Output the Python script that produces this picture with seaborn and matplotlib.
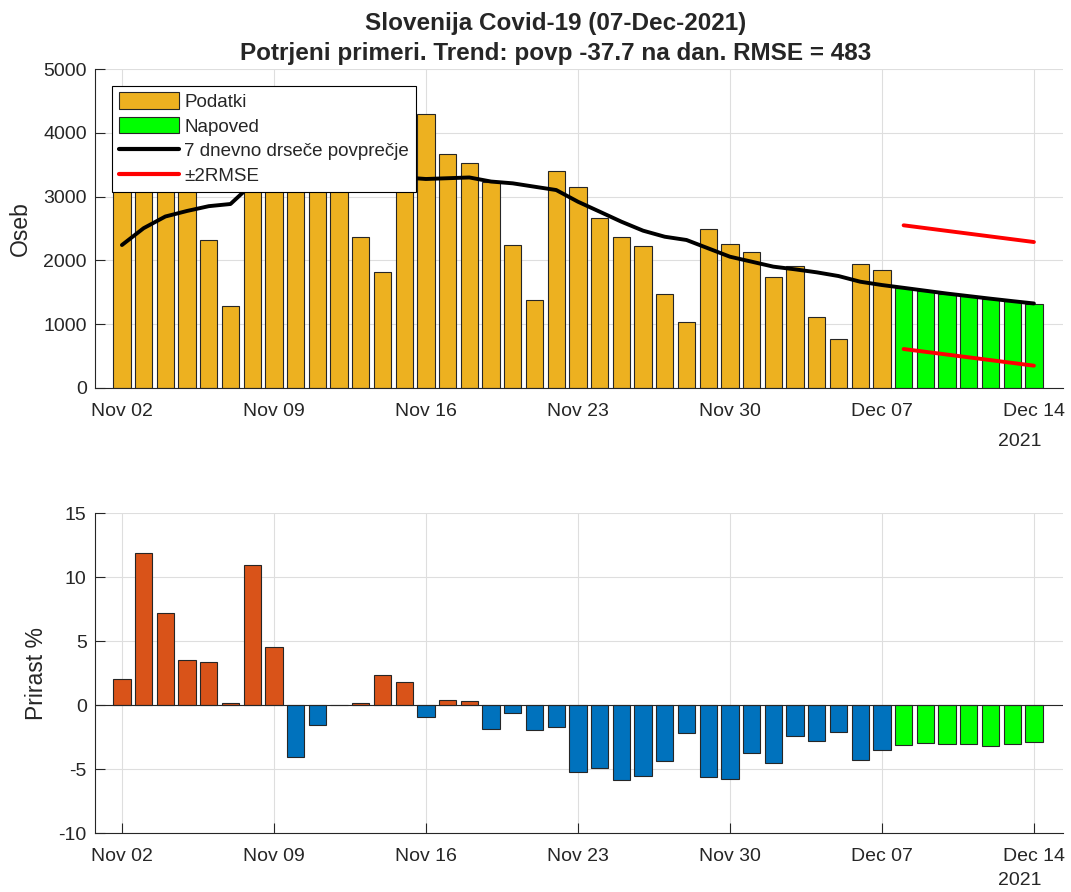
import matplotlib
matplotlib.use("Agg")
import matplotlib.pyplot as plt
import seaborn as sns
import pandas as pd
from matplotlib.patches import Patch
from matplotlib.lines import Line2D

# days shown on the x axis (Nov 02 .. Dec 14, 2021)
days = pd.date_range("2021-11-02", "2021-12-14").strftime("%b %d").tolist()

# confirmed cases Nov 02 .. Dec 07
cases = [3460, 4510, 3790, 3650, 2320, 1285, 3320, 4470, 3570, 3450,
         3650, 2361, 1823, 3725, 4290, 3663, 3522, 3234, 2241, 1379,
         3396, 3145, 2659, 2361, 2220, 1468, 1029, 2487, 2257, 2126,
         1740, 1907, 1113, 768, 1944, 1850]
# forecast Dec 08 .. Dec 14
forecast = [1573, 1520, 1478, 1447, 1400, 1359, 1317]

# 7 day moving average (incl. forecast)
avg7 = [2241, 2505, 2688, 2775, 2850, 2884, 3200, 3345, 3212, 3165,
        3165, 3171, 3244, 3300, 3276, 3288, 3300, 3236, 3208, 3155,
        3103, 2920, 2764, 2607, 2466, 2371, 2320, 2189, 2058, 1980,
        1902, 1860, 1813, 1755, 1666, 1614, 1570, 1525, 1480, 1440,
        1400, 1362, 1325]

# +-2RMSE band ends (Dec 08, Dec 14)
band_days = ["Dec 08", "Dec 14"]
band_upper = [2550, 2288]
band_lower = [611, 350]

# daily growth of the average in %
growth = [2.0, 11.9, 7.2, 3.5, 3.35, 0.18, 10.9, 4.5, -4.1, -1.6,
          0.03, 0.16, 2.35, 1.77, -0.9, 0.4, 0.31, -1.9, -0.63, -1.98,
          -1.75, -5.26, -4.92, -5.89, -5.57, -4.38, -2.19, -5.63, -5.78, -3.78,
          -4.56, -2.45, -2.82, -2.11, -4.3, -3.52,
          -3.13, -2.97, -3.05, -3.05, -3.2, -3.05, -2.89]

ORANGE = "#EDB120"
GREEN = "#00FF00"
REDORANGE = "#D95319"
BLUE = "#0072BD"
EDGE = "#262626"
TXT = "#262626"

sns.set_style("white")
plt.rcParams["font.family"] = ["Liberation Sans", "DejaVu Sans"]
plt.rcParams["axes.unicode_minus"] = False

n_data = len(cases)
df_top = pd.DataFrame({
    "day": days,
    "value": cases + forecast,
    "kind": ["Podatki"] * n_data + ["Napoved"] * len(forecast),
})
df_bot = pd.DataFrame({"day": days, "growth": growth})
df_bot["kind"] = ["rast" if g >= 0 else "padec" for g in growth[:n_data]] + ["napoved"] * len(forecast)

fig = plt.figure(figsize=(10.71, 8.92), dpi=100)
W, H = 1071, 892
ax1 = fig.add_axes([95 / W, 1 - 388 / H, 968 / W, 319 / H])
ax2 = fig.add_axes([95 / W, 1 - 833 / H, 968 / W, 320 / H])

# --- top: cases ---
sns.barplot(data=df_top, x="day", y="value", hue="kind", order=days,
            palette={"Podatki": ORANGE, "Napoved": GREEN}, dodge=False,
            width=0.8, saturation=1, edgecolor=EDGE, linewidth=0.8,
            legend=False, ax=ax1, zorder=2)
sns.lineplot(x=list(range(len(days))), y=avg7, color="black", lw=2.8, ax=ax1, zorder=3)
band_x = [days.index(d) for d in band_days]
sns.lineplot(x=band_x, y=band_upper, color="red", lw=2.8, ax=ax1, zorder=3)
sns.lineplot(x=band_x, y=band_lower, color="red", lw=2.8, ax=ax1, zorder=3)

ax1.set_ylim(0, 5000)
ax1.set_yticks(range(0, 5001, 1000))
ax1.set_ylabel("Oseb", fontsize=16.5, color=TXT, va="center")
ax1.yaxis.set_label_coords(-0.0775, 0.5)

handles = [Patch(facecolor=ORANGE, edgecolor=EDGE, linewidth=0.8),
           Patch(facecolor=GREEN, edgecolor=EDGE, linewidth=0.8),
           Line2D([], [], color="black", lw=3),
           Line2D([], [], color="red", lw=3)]
labels = ["Podatki", "Napoved", "7 dnevno drseče povprečje", "±2RMSE"]
leg = ax1.legend(handles, labels, loc="upper left", bbox_to_anchor=(0.0176, 0.947),
                 borderaxespad=0, fontsize=13.5, fancybox=False, framealpha=1,
                 edgecolor="black", handlelength=3.2, handleheight=0.95,
                 labelspacing=0.33, borderpad=0.35, handletextpad=0.3)
leg.get_frame().set_linewidth(0.8)
leg.set_zorder(10)

ax1.set_title("Slovenija Covid-19 (07-Dec-2021)\n"
              "Potrjeni primeri. Trend: povp -37.7 na dan. RMSE = 483",
              fontsize=17.5, fontweight="bold", x=0.476, pad=6.5, linespacing=1.4)

# --- bottom: growth ---
sns.barplot(data=df_bot, x="day", y="growth", hue="kind", order=days,
            palette={"rast": REDORANGE, "padec": BLUE, "napoved": GREEN},
            dodge=False, width=0.8, saturation=1, edgecolor=EDGE, linewidth=0.8,
            legend=False, ax=ax2, zorder=2)
ax2.axhline(0, color=EDGE, lw=0.8, zorder=3)
ax2.set_ylim(-10, 15)
ax2.set_yticks(range(-10, 16, 5))
ax2.set_ylabel("Prirast %", fontsize=16.5, color=TXT, va="center")
ax2.yaxis.set_label_coords(-0.0602, 0.5)

for ax, year_y in ((ax1, -0.168), (ax2, -0.147)):
    ax.set_xlim(-1.24, len(days) - 1 + 1.34)
    ax.set_xticks(range(0, len(days), 7))
    ax.set_xticklabels(days[::7])
    ax.set_xlabel("")
    ax.grid(True, color="#dedede", lw=0.8)
    ax.set_axisbelow(True)
    for s in ("top", "right"):
        ax.spines[s].set_visible(False)
    for s in ("left", "bottom"):
        ax.spines[s].set_color(EDGE)
        ax.spines[s].set_linewidth(0.8)
        ax.spines[s].set_zorder(4)
    ax.tick_params(bottom=True, left=True, direction="in", length=7, width=0.8,
                   color=EDGE, labelcolor=TXT, labelsize=14)
    ax.tick_params(axis="x", pad=11)
    ax.tick_params(axis="y", pad=6)
    ax.text(41.35, year_y, "2021", transform=ax.get_xaxis_transform(),
            ha="center", va="center", fontsize=14, color=TXT)

fig.savefig("out.png", dpi=100)
